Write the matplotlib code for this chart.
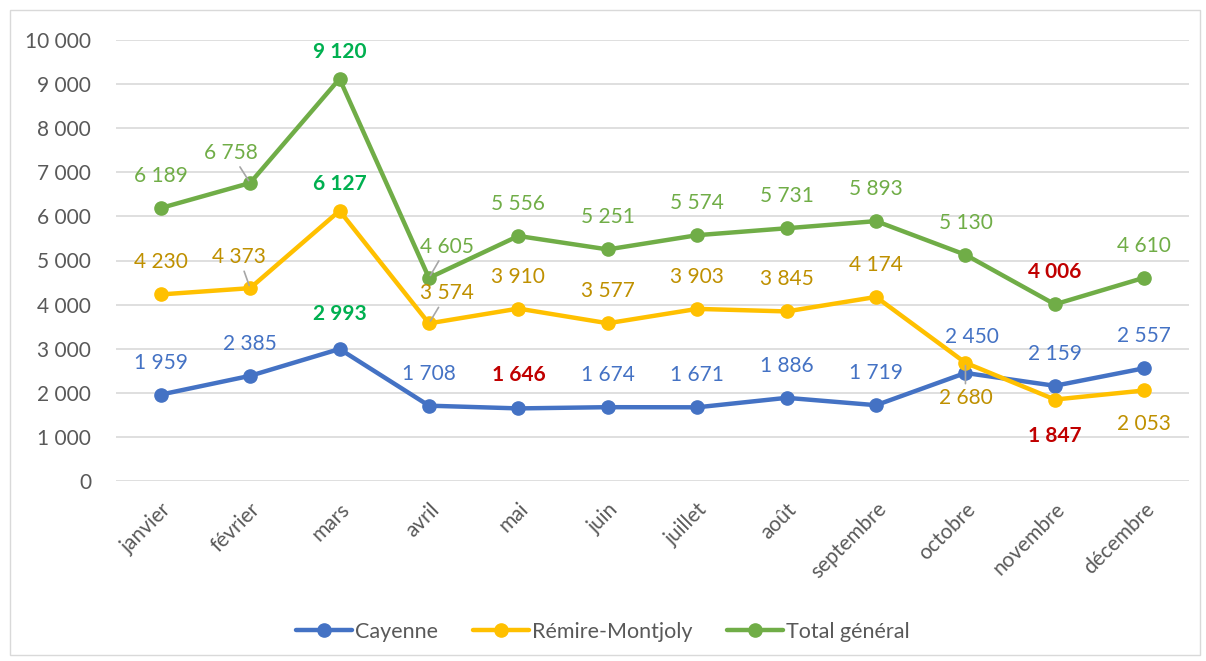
import matplotlib.pyplot as plt
from matplotlib.patches import Rectangle

plt.rcParams["font.family"] = ["Lato", "DejaVu Sans"]

mois = ["janvier", "février", "mars", "avril", "mai", "juin", "juillet",
        "août", "septembre", "octobre", "novembre", "décembre"]
cayenne = [1959, 2385, 2993, 1708, 1646, 1674, 1671, 1886, 1719, 2450, 2159, 2557]
remire = [4230, 4373, 6127, 3574, 3910, 3577, 3903, 3845, 4174, 2680, 1847, 2053]
total = [6189, 6758, 9120, 4605, 5556, 5251, 5574, 5731, 5893, 5130, 4006, 4610]
y_ticks = list(range(0, 10001, 1000))

GRIS = "#595959"
VERT_FORT = "#00B050"
ROUGE = "#C00000"

# style par série : couleur de ligne, couleur des étiquettes,
# décalages particuliers (index -> (dx, dy) en pixels, trait de rappel)
series = [
    ("Cayenne", cayenne, "#4472C4", "#4472C4",
     {2: (0, 35, False), 4: (0, 33, False), 9: (6, 36, False)}),
    ("Rémire-Montjoly", remire, "#FFC000", "#BF9000",
     {1: (-11, 31, True), 2: (0, 27, False), 3: (18, 30, True),
      9: (0, -35, True), 10: (0, -36, False), 11: (0, -34, False)}),
    ("Total général", total, "#70AD47", "#70AD47",
     {1: (-19, 30, True), 2: (0, 27, False), 3: (18, 31, True)}),
]

fig = plt.figure(figsize=(12.06, 6.61), dpi=100)
fig.patches.append(Rectangle((10 / 1206, 6 / 661), 1190 / 1206, 645 / 661,
                             transform=fig.transFigure, fill=False,
                             edgecolor="#D9D9D9", linewidth=1))
ax = fig.add_axes([116 / 1206, 1 - 481 / 661, 1073 / 1206, 441 / 661])

x = list(range(len(mois)))
for nom, vals, couleur, c_lab, speciaux in series:
    ax.plot(x, vals, color=couleur, linewidth=3.2, marker="o", markersize=9.5,
            label=nom, zorder=3, clip_on=False, solid_capstyle="round")
    i_max = vals.index(max(vals))
    i_min = vals.index(min(vals))
    for i, v in enumerate(vals):
        dx, dy, rappel = speciaux.get(i, (0, 32, False))
        couleur_txt, poids = c_lab, "normal"
        if i == i_max:
            couleur_txt, poids = VERT_FORT, "bold"
        elif i == i_min:
            couleur_txt, poids = ROUGE, "bold"
        txt = f"{v:,}".replace(",", " ")
        props = None
        if rappel:
            props = dict(arrowstyle="-", color="#A6A6A6", lw=1.2,
                         shrinkA=1, shrinkB=2)
        ax.annotate(txt, (i, v), xytext=(dx, dy), textcoords="offset pixels",
                    ha="center", va="center", fontsize=15, color=couleur_txt,
                    fontweight=poids, arrowprops=props, zorder=4,
                    annotation_clip=False)

ax.set_xlim(-0.5, len(mois) - 0.5)
ax.set_ylim(0, 10000)
ax.set_yticks(y_ticks)
ax.set_yticklabels([f"{t:,}".replace(",", " ") for t in y_ticks])
ax.set_xticks(x)
ax.set_xticklabels(mois, rotation=45, ha="right", rotation_mode="anchor")
ax.tick_params(axis="both", length=0, labelsize=15, labelcolor=GRIS)
ax.tick_params(axis="y", pad=18)
ax.tick_params(axis="x", pad=13)
ax.grid(axis="y", color="#D9D9D9", linewidth=1.2)
ax.set_axisbelow(True)
for s in ax.spines.values():
    s.set_visible(False)

fig.legend(loc="center", bbox_to_anchor=(0.5, 1 - 632 / 661), ncol=3,
           frameon=False, fontsize=15.5, labelcolor=GRIS, handlelength=2.6,
           handletextpad=0.15, columnspacing=1.6)

fig.savefig("out.png", dpi=100)
